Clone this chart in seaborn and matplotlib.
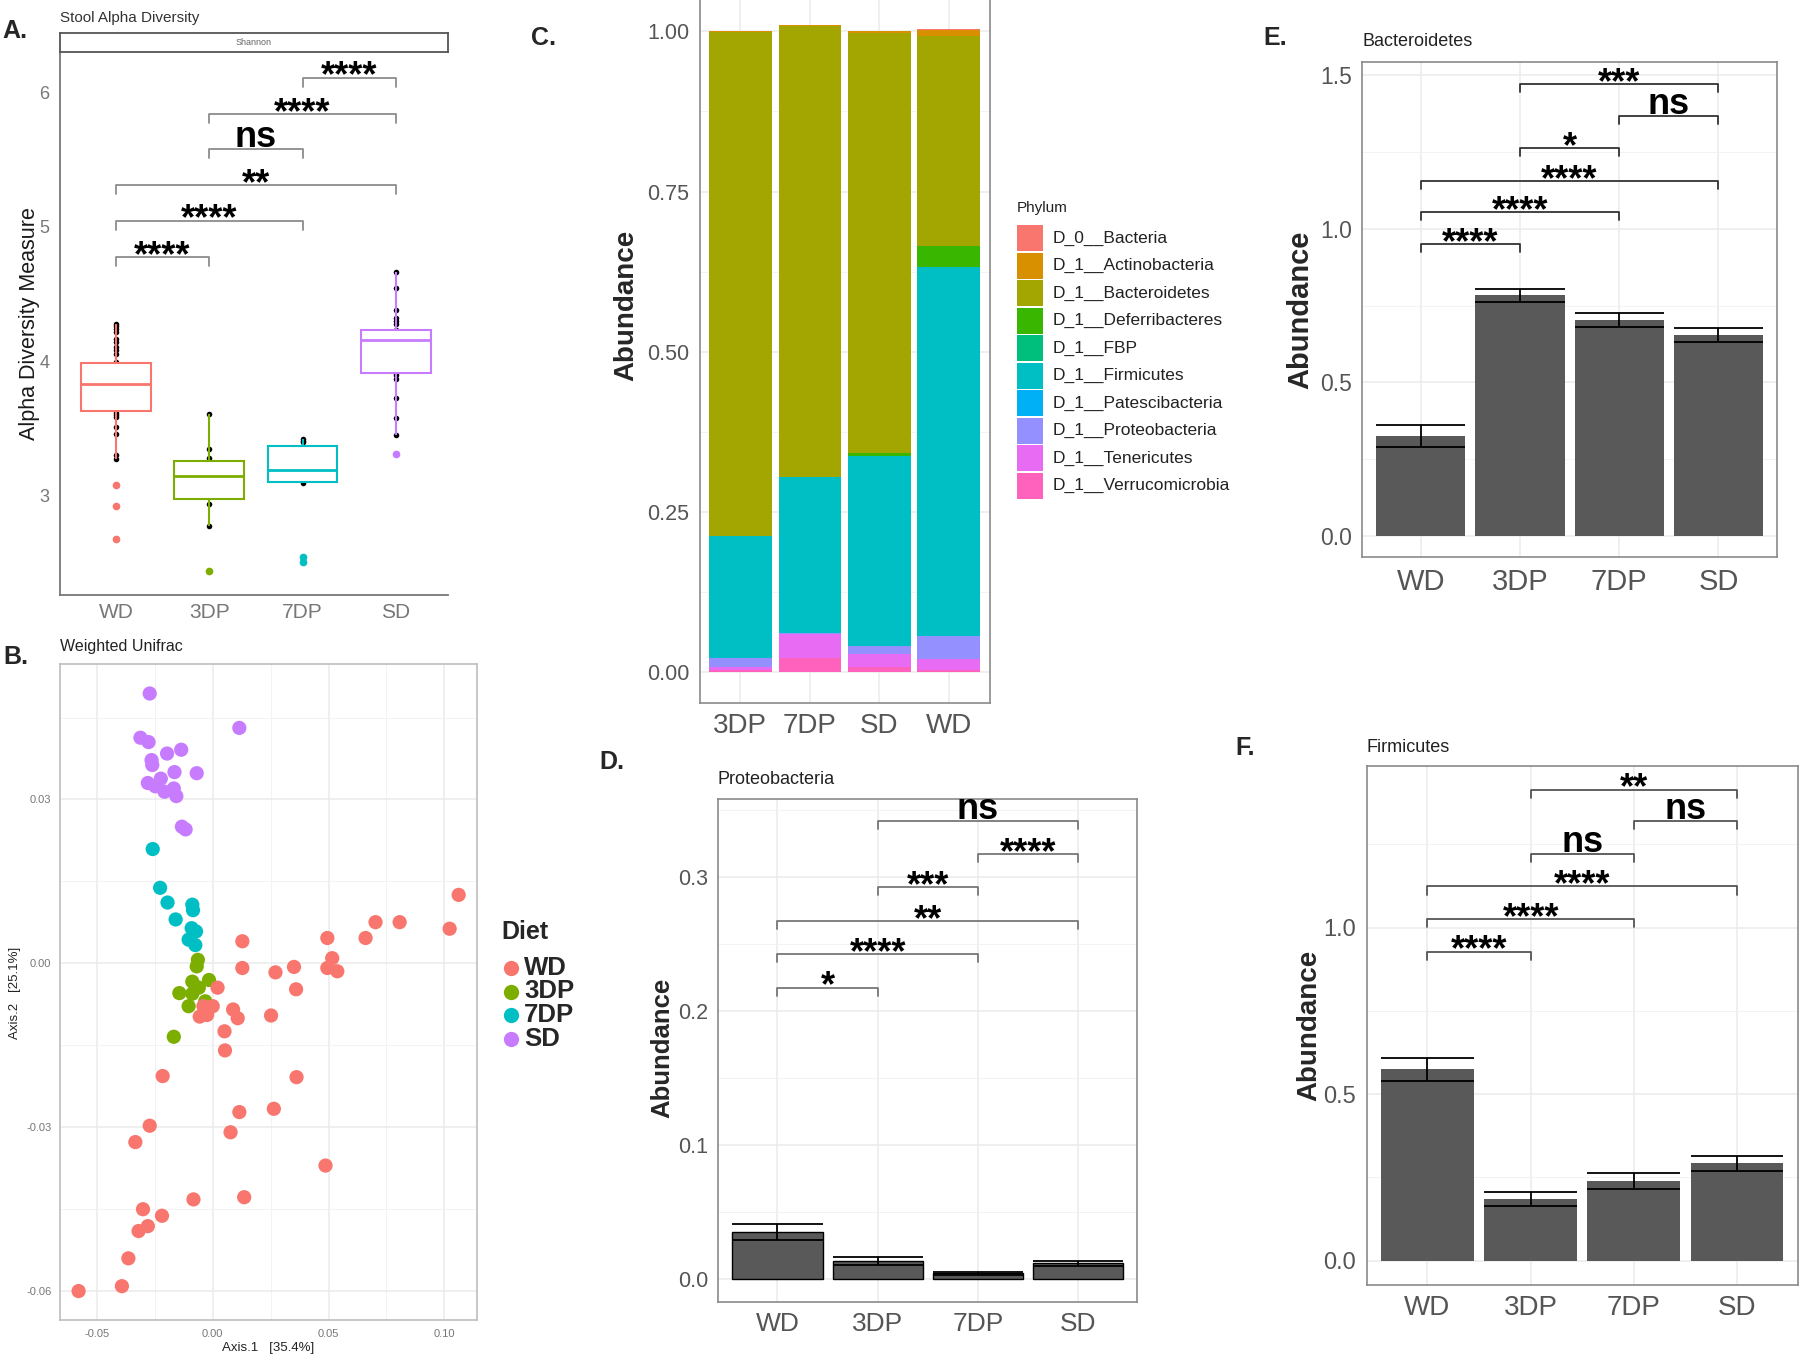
import numpy as np
import pandas as pd
import matplotlib
matplotlib.use("Agg")
import matplotlib.pyplot as plt
from matplotlib.lines import Line2D
from matplotlib.patches import Rectangle
import seaborn as sns

sns.set_style("white")
plt.rcParams["font.family"] = ["Liberation Sans", "DejaVu Sans"]

# ---------------- data ----------------
diets = ["WD", "3DP", "7DP", "SD"]
diet_colors = ["#F8766D", "#7CAE00", "#00BFC4", "#C77CFF"]

# A. Shannon index per sample
shannon_wd = [2.677, 2.929, 3.083, 3.277, 3.301, 3.462, 3.512, 3.586, 3.599, 3.62,
              3.64, 3.66, 3.68, 3.70, 3.72, 3.74, 3.76, 3.78, 3.80, 3.82,
              3.84, 3.86, 3.88, 3.90, 3.92, 3.94, 3.96, 3.97, 3.98, 3.99,
              3.995, 4.057, 4.082, 4.106, 4.143, 4.169, 4.218, 4.243, 4.26, 4.275]
shannon_3dp = [2.44, 2.78, 2.94, 2.99, 3.05, 3.12, 3.17, 3.20, 3.25, 3.28, 3.35, 3.61]
shannon_7dp = [2.51, 2.55, 3.10, 3.12, 3.18, 3.21, 3.30, 3.40, 3.41, 3.42]
shannon_sd = [3.31, 3.45, 3.58, 3.73, 3.87, 3.90, 3.915, 3.96, 4.02, 4.06, 4.10, 4.14,
              4.16, 4.18, 4.19, 4.20, 4.21, 4.22, 4.23, 4.28, 4.30, 4.32, 4.385, 4.544, 4.668]
alpha_pairs = [("WD", "3DP"), ("WD", "7DP"), ("WD", "SD"), ("3DP", "7DP"), ("3DP", "SD"), ("7DP", "SD")]
alpha_levels = [4.777, 5.047, 5.31, 5.578, 5.84, 6.11]
alpha_labels = ["****", "****", "**", "ns", "****", "****"]

# B. weighted unifrac PCoA
sd_ax1 = [-0.0272, 0.0115, -0.0312, -0.0277, -0.0197, -0.0136, -0.0264, -0.0261, -0.0165,
          -0.0069, -0.0280, -0.0224, -0.0248, -0.0208, -0.0168, -0.0157, -0.0133, -0.0117]
sd_ax2 = [0.0494, 0.0431, 0.0413, 0.0405, 0.0384, 0.0391, 0.0372, 0.0363, 0.0350,
          0.0348, 0.0330, 0.0338, 0.0324, 0.0314, 0.0320, 0.0306, 0.0250, 0.0245]
dp7_ax1 = [-0.0259, -0.0227, -0.0195, -0.0160, -0.0088, -0.0085, -0.0091, -0.0072, -0.0104, -0.0075]
dp7_ax2 = [0.0209, 0.0138, 0.0111, 0.0080, 0.0107, 0.0097, 0.0064, 0.0058, 0.0043, 0.0033]
dp3_ax1 = [-0.0064, -0.0069, -0.0016, -0.0088, -0.0144, -0.0088, -0.0104, -0.0032, -0.0168, -0.0060]
dp3_ax2 = [0.0006, -0.0006, -0.0031, -0.0034, -0.0055, -0.0056, -0.0079, -0.0070, -0.0135, -0.0045]
wd_ax1 = [0.1062, 0.0703, 0.0807, 0.1023, 0.0660, 0.0495, 0.0128, 0.0516, 0.0495, 0.0538,
          0.0351, 0.0271, 0.0128, 0.0360, 0.0021, -0.0040, 0.0000, -0.0056, -0.0024, 0.0088,
          0.0108, 0.0252, 0.0051, 0.0053, -0.0216, 0.0362, 0.0115, 0.0264, -0.0272, 0.0077,
          -0.0334, 0.0487, -0.0083, 0.0136, -0.0301, -0.0219, -0.0320, -0.0280, -0.0364,
          -0.0392, -0.0579]
wd_ax2 = [0.0125, 0.0075, 0.0075, 0.0063, 0.0046, 0.0046, 0.0040, 0.0009, -0.0009, -0.0015,
          -0.0007, -0.0017, -0.0009, -0.0048, -0.0045, -0.0079, -0.0079, -0.0098, -0.0095, -0.0085,
          -0.0101, -0.0096, -0.0125, -0.0160, -0.0207, -0.0209, -0.0273, -0.0267, -0.0298, -0.0310,
          -0.0328, -0.0371, -0.0433, -0.0429, -0.0451, -0.0463, -0.0491, -0.0482, -0.0541,
          -0.0592, -0.0601]

# C. mean relative abundance per phylum
comp_order = ["3DP", "7DP", "SD", "WD"]
phyla = ["D_0__Bacteria", "D_1__Actinobacteria", "D_1__Bacteroidetes", "D_1__Deferribacteres",
         "D_1__FBP", "D_1__Firmicutes", "D_1__Patescibacteria", "D_1__Proteobacteria",
         "D_1__Tenericutes", "D_1__Verrucomicrobia"]
phylum_colors = ["#F8766D", "#D89000", "#A3A500", "#39B600", "#00BF7D",
                 "#00BFC4", "#00B0F6", "#9590FF", "#E76BF3", "#FF62BC"]
comp_3dp = [0.0005, 0.001, 0.7865, 0.0005, 0.0, 0.190, 0.0, 0.014, 0.0055, 0.003]
comp_7dp = [0.0, 0.0025, 0.7035, 0.0, 0.0, 0.2425, 0.0, 0.0025, 0.0375, 0.0218]
comp_sd = [0.0, 0.003, 0.6544, 0.0045, 0.0, 0.2965, 0.0, 0.0135, 0.0192, 0.0088]
comp_wd = [0.0005, 0.0095, 0.328, 0.033, 0.0, 0.575, 0.0, 0.0367, 0.0167, 0.0036]

# D-F. phylum abundance, mean and standard error
proteo_mean = [0.0353, 0.0137, 0.0042, 0.0117]
proteo_se = [0.0060, 0.0030, 0.0010, 0.0020]
proteo_levels = [0.2174, 0.2421, 0.2672, 0.2921, 0.3167, 0.3415]
proteo_pairs = [("WD", "3DP"), ("WD", "7DP"), ("WD", "SD"), ("3DP", "7DP"), ("7DP", "SD"), ("3DP", "SD")]
proteo_labels = ["*", "****", "**", "***", "****", "ns"]

bact_mean = [0.326, 0.784, 0.703, 0.654]
bact_se = [0.035, 0.021, 0.022, 0.023]
bact_levels = [0.949, 1.053, 1.156, 1.261, 1.366, 1.470]
bact_pairs = [("WD", "3DP"), ("WD", "7DP"), ("WD", "SD"), ("3DP", "7DP"), ("7DP", "SD"), ("3DP", "SD")]
bact_labels = ["****", "****", "****", "*", "ns", "***"]

firm_mean = [0.574, 0.185, 0.240, 0.2925]
firm_se = [0.034, 0.022, 0.024, 0.023]
firm_levels = [0.928, 1.026, 1.124, 1.221, 1.320, 1.415]
firm_pairs = [("WD", "3DP"), ("WD", "7DP"), ("WD", "SD"), ("3DP", "7DP"), ("7DP", "SD"), ("3DP", "SD")]
firm_labels = ["****", "****", "****", "ns", "ns", "**"]

# ---------------- helpers ----------------
W, H = 1800, 1358
fig = plt.figure(figsize=(W / 100, H / 100), dpi=100)


def rect(l, t, r, b):
    return [l / W, 1 - b / H, (r - l) / W, (b - t) / H]


def ftext(x, y, s, **kw):
    fig.text(x / W, 1 - y / H, s, **kw)


def add_brackets(ax, pairs, levels, labels, tick, color):
    for (g1, g2), y, lab in zip(pairs, levels, labels):
        x1, x2 = diets.index(g1), diets.index(g2)
        ax.plot([x1, x1, x2, x2], [y - tick, y, y, y - tick], color=color, lw=1.3,
                clip_on=False, zorder=5)
        off = 1.5 if lab == "ns" else -6.5
        ax.annotate(lab, ((x1 + x2) / 2, y), xytext=(0, off), textcoords="offset points",
                    ha="center", va="baseline", fontsize=26, fontweight="bold",
                    color="black", zorder=6, annotation_clip=False)


def bw_frame(ax):
    ax.set_axisbelow(True)
    ax.grid(True, which="major", color="#EBEBEB", lw=1.1)
    ax.grid(True, which="minor", axis="y", color="#F3F3F3", lw=0.7)
    for sp in ax.spines.values():
        sp.set_visible(True)
        sp.set_color("#8a8a8a")
        sp.set_linewidth(1.2)
    ax.tick_params(which="major", length=4, width=1, color="#8a8a8a", labelcolor="#555555")
    ax.tick_params(which="minor", length=0)
    ax.set_xlabel("")
    ax.set_ylabel("")


# ---------------- A ----------------
ax_a = fig.add_axes(rect(60, 52, 448, 595))
alpha_df = pd.DataFrame({
    "diet": ["WD"] * len(shannon_wd) + ["3DP"] * len(shannon_3dp)
            + ["7DP"] * len(shannon_7dp) + ["SD"] * len(shannon_sd),
    "shannon": shannon_wd + shannon_3dp + shannon_7dp + shannon_sd,
})
sns.stripplot(data=alpha_df, x="diet", y="shannon", order=diets, color="black", size=4,
              jitter=False, zorder=1, ax=ax_a)
for d, c in zip(diets, diet_colors):
    sns.boxplot(data=alpha_df[alpha_df["diet"] == d], x="diet", y="shannon", order=diets,
                color="white", linecolor=c, saturation=1, width=0.75, linewidth=1.5,
                showcaps=False, medianprops=dict(linewidth=2),
                flierprops=dict(marker="o", markersize=4.5, markerfacecolor=c, markeredgecolor=c),
                ax=ax_a)
add_brackets(ax_a, alpha_pairs, alpha_levels, alpha_labels, 0.067, "#8c8c8c")
ax_a.set_xlim(-0.6, 3.56)
ax_a.set_yticks([3, 4, 5, 6])
ax_a.set_ylim(2.264, 6.30)
ax_a.set_xlabel("")
ax_a.set_ylabel("")
for s in ["top", "right"]:
    ax_a.spines[s].set_visible(False)
for s in ["left", "bottom"]:
    ax_a.spines[s].set_color("#777777")
    ax_a.spines[s].set_linewidth(1.3)
ax_a.tick_params(length=4, color="#777777", labelcolor="#777777")
ax_a.tick_params(axis="x", labelsize=15, pad=1.5)
ax_a.tick_params(axis="y", labelsize=13)

ax_s = fig.add_axes(rect(60, 33, 448, 52))
ax_s.set_xticks([])
ax_s.set_yticks([])
for sp in ax_s.spines.values():
    sp.set_color("#555555")
    sp.set_linewidth(1.3)
ax_s.text(0.5, 0.5, "Shannon", fontsize=6.5, color="#666666", ha="center", va="center",
          transform=ax_s.transAxes)

ftext(60, 18, "Stool Alpha Diversity", fontsize=11, color="#333333", va="center")
ftext(30, 324, "Alpha Diversity Measure", fontsize=15.5, color="#1a1a1a", rotation=90,
      ha="center", va="center")

# ---------------- B ----------------
ax_b = fig.add_axes(rect(60.3, 663.5, 477.2, 1320))
beta_df = pd.DataFrame({
    "axis1": sd_ax1 + dp7_ax1 + dp3_ax1 + wd_ax1,
    "axis2": sd_ax2 + dp7_ax2 + dp3_ax2 + wd_ax2,
    "diet": ["SD"] * len(sd_ax1) + ["7DP"] * len(dp7_ax1) + ["3DP"] * len(dp3_ax1)
            + ["WD"] * len(wd_ax1),
})
sns.scatterplot(data=beta_df, x="axis1", y="axis2", hue="diet", hue_order=diets,
                palette=diet_colors, s=105, linewidth=0, alpha=1, legend=False, ax=ax_b)
ax_b.set_xticks([-0.05, 0.0, 0.05, 0.10], ["-0.05", "0.00", "0.05", "0.10"])
ax_b.set_yticks([-0.06, -0.03, 0.0, 0.03], ["-0.06", "-0.03", "0.00", "0.03"])
ax_b.set_xticks([-0.025, 0.025, 0.075], minor=True)
ax_b.set_yticks([-0.045, -0.015, 0.015, 0.045], minor=True)
ax_b.set_xlim(-0.0658, 0.1142)
ax_b.set_ylim(-0.0654, 0.0549)
bw_frame(ax_b)
ax_b.grid(True, which="minor", axis="x", color="#F3F3F3", lw=0.7)
ax_b.tick_params(labelsize=8, labelcolor="#777777", length=3)
for sp in ax_b.spines.values():
    sp.set_color("#bdbdbd")

# Diet legend
ftext(501, 932, "Diet", fontsize=18, fontweight="bold", va="center")
for i, (d, c) in enumerate(zip(diets, diet_colors)):
    yy = 968 + i * 23.5
    fig.add_artist(Line2D([511 / W], [1 - yy / H], marker="o", ls="", markersize=11,
                          markerfacecolor=c, markeredgewidth=0, transform=fig.transFigure))
    ftext(524, yy, d, fontsize=18.5, fontweight="bold", va="center")

ftext(60.3, 647, "Weighted Unifrac", fontsize=11.5, color="#222222", va="center")
ftext(268, 1348, "Axis.1   [35.4%]", fontsize=9.5, color="#222222", ha="center", va="center")
ftext(15, 993, "Axis.2   [25.1%]", fontsize=9.5, color="#222222", rotation=90,
      ha="center", va="center")

# ---------------- C ----------------
ax_c = fig.add_axes(rect(700, 0, 990, 703))
comp_df = pd.DataFrame({
    "pos": np.repeat(np.arange(len(comp_order)), len(phyla)),
    "phylum": phyla * len(comp_order),
    "abundance": comp_3dp + comp_7dp + comp_sd + comp_wd,
})
sns.histplot(data=comp_df, x="pos", weights="abundance", hue="phylum", hue_order=phyla,
             palette=phylum_colors, multiple="stack", discrete=True, shrink=0.9,
             linewidth=0, alpha=1, legend=False, ax=ax_c)
ax_c.set_xticks(range(len(comp_order)), comp_order)
ax_c.set_yticks([0, 0.25, 0.5, 0.75, 1.0], ["0.00", "0.25", "0.50", "0.75", "1.00"])
ax_c.set_yticks([0.125, 0.375, 0.625, 0.875], minor=True)
ax_c.set_xlim(-0.58, 3.594)
ax_c.set_ylim(-0.0478, 1.0488)
bw_frame(ax_c)
ax_c.spines["top"].set_visible(False)
ax_c.tick_params(axis="x", labelsize=20)
ax_c.tick_params(axis="y", labelsize=15.5)

# Phylum legend
ftext(1017, 208, "Phylum", fontsize=11, color="#222222", va="center")
for i, (p, c) in enumerate(zip(phyla, phylum_colors)):
    yy = 238.3 + i * 27.5
    fig.add_artist(Rectangle((1017 / W, 1 - (yy + 13) / H), 26 / W, 26 / H,
                             facecolor=c, edgecolor="none", transform=fig.transFigure))
    ftext(1053, yy, p, fontsize=12.5, color="#222222", va="center")

ftext(626, 305, "Abundance", fontsize=20, fontweight="bold", rotation=90,
      ha="center", va="center")


# ---------------- D / E / F ----------------
def bar_panel(box, means, ses, ylim, yticks, edge, pairs, levels, labels, bcolor, xfs, yfs):
    ax = fig.add_axes(rect(*box))
    sns.barplot(x=diets, y=means, order=diets, color="#595959", saturation=1, width=0.9,
                errorbar=None, edgecolor=edge if edge else "none",
                linewidth=1.0 if edge else 0, ax=ax)
    pos = np.arange(len(diets))
    lo = np.array(means) - np.array(ses)
    hi = np.array(means) + np.array(ses)
    ax.vlines(pos, lo, hi, color="black", lw=1.3, zorder=3)
    ax.hlines(np.concatenate([lo, hi]), np.tile(pos - 0.45, 2), np.tile(pos + 0.45, 2),
              color="black", lw=1.3, zorder=3)
    add_brackets(ax, pairs, levels, labels, 0.016 * (ylim[1] - ylim[0]), bcolor)
    step = yticks[1] - yticks[0]
    ax.set_yticks(yticks, [f"{t:.1f}" for t in yticks])
    minors = [t + step / 2 for t in yticks if t + step / 2 < ylim[1]]
    ax.set_yticks(minors, minor=True)
    ax.set_xlim(-0.59, 3.59)
    ax.set_ylim(*ylim)
    bw_frame(ax)
    ax.tick_params(axis="x", labelsize=xfs)
    ax.tick_params(axis="y", labelsize=yfs)
    return ax


ax_d = bar_panel((718.4, 799, 1137, 1301.7), proteo_mean, proteo_se, (-0.0169, 0.358),
                 [0.0, 0.1, 0.2, 0.3], "black", proteo_pairs, proteo_levels, proteo_labels,
                 "#777777", 19, 15.5)
ax_e = bar_panel((1362.3, 61.7, 1776.9, 557.3), bact_mean, bact_se, (-0.069, 1.543),
                 [0.0, 0.5, 1.0, 1.5], None, bact_pairs, bact_levels, bact_labels,
                 "#333333", 21, 16.5)
ax_f = bar_panel((1366.6, 766, 1797.9, 1284.5), firm_mean, firm_se, (-0.0718, 1.4856),
                 [0.0, 0.5, 1.0], None, firm_pairs, firm_levels, firm_labels,
                 "#555555", 20, 17)

ftext(717.7, 779, "Proteobacteria", fontsize=13, color="#222222", va="center")
ftext(1362.3, 41, "Bacteroidetes", fontsize=13, color="#222222", va="center")
ftext(1366.6, 747, "Firmicutes", fontsize=13, color="#222222", va="center")
ftext(662, 1048, "Abundance", fontsize=18.5, fontweight="bold", rotation=90, ha="center", va="center")
ftext(1300, 310, "Abundance", fontsize=21, fontweight="bold", rotation=90, ha="center", va="center")
ftext(1309, 1025, "Abundance", fontsize=20, fontweight="bold", rotation=90, ha="center", va="center")

# panel letters
for lab, x, y in [("A.", 2, 31), ("B.", 3, 657), ("C.", 531, 38), ("D.", 599, 762),
                  ("E.", 1263, 38), ("F.", 1235, 748)]:
    ftext(x, y, lab, fontsize=18, fontweight="bold", va="center")

fig.savefig("out.png", dpi=100)
